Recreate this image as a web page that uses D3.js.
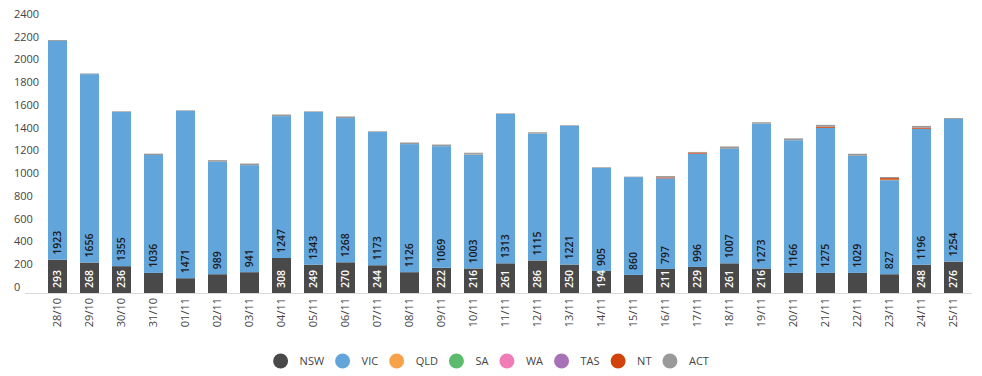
<!DOCTYPE html>
<html>
<head>
<meta charset="utf-8">
<script src="https://d3js.org/d3.v7.min.js"></script>
<style>
  body { margin: 0; background: #fff; }
  text { font-family: "Open Sans", "Noto Sans", sans-serif; }
</style>
</head>
<body>
<div id="container"></div>
<script>
let w = 982;
let h = 376;

// categories (days)
let dates = ["28/10","29/10","30/10","31/10","01/11","02/11","03/11","04/11","05/11","06/11",
  "07/11","08/11","09/11","10/11","11/11","12/11","13/11","14/11","15/11","16/11",
  "17/11","18/11","19/11","20/11","21/11","22/11","23/11","24/11","25/11"];

// series values, one per day
let nsw = [293,268,236,177,130,165,183,308,249,270,244,183,222,216,261,286,250,194,159,211,229,261,216,177,177,177,165,248,276];
let vic = [1923,1656,1355,1036,1471,989,941,1247,1343,1268,1173,1126,1069,1003,1313,1115,1221,905,860,797,996,1007,1273,1166,1275,1029,827,1196,1254];
let qld = [0,0,0,0,0,0,0,0,0,0,0,0,0,4,0,0,0,0,0,0,0,0,0,0,0,0,4,0,0];
let sa  = [0,0,0,0,0,0,0,0,0,0,0,0,0,0,0,0,0,0,0,0,0,0,0,0,0,0,0,0,0];
let wa  = [0,0,0,0,0,0,0,0,0,0,0,0,0,0,0,0,0,0,0,0,0,0,0,0,0,0,0,0,0];
let tas = [0,0,0,0,0,0,0,0,0,0,0,0,0,0,0,0,0,0,0,0,0,0,0,0,0,0,0,0,0];
let nt  = [0,0,0,0,0,0,0,0,0,0,0,0,0,0,0,0,0,0,0,8,10,0,0,0,10,0,14,10,0];
let act = [8,6,6,12,5,14,14,14,5,14,5,14,14,10,5,12,5,6,4,12,5,20,12,16,16,18,10,15,8];

// tick labels on the value axis
let yTicks = [0,200,400,600,800,1000,1200,1400,1600,1800,2000,2200,2400];

let seriesNames = ["NSW","VIC","QLD","SA","WA","TAS","NT","ACT"];
let seriesValues = [nsw, vic, qld, sa, wa, tas, nt, act];
let colors = ["#494949","#62a5da","#f7a24b","#5dbb6e","#f07db5","#a872b6","#d2430c","#999999"];

// build rows for the stack layout
let rows = dates.map(function(d, i){
  let row = {date: d};
  seriesNames.forEach(function(name, j){
    row[name] = seriesValues[j][i];
  });
  return row;
});

let viz = d3.select("#container")
  .append("svg")
    .attr("width", w)
    .attr("height", h)
;

let xScale = d3.scaleBand().domain(dates).range([41.5, 969.5]).paddingInner(0.406).paddingOuter(0.203);
let yScale = d3.scaleLinear().domain([0, 2400]).range([293, 20]);
let colorScale = d3.scaleOrdinal().domain(seriesNames).range(colors);

let stacked = d3.stack().keys(seriesNames)(rows);

// y labels, sitting a little above their value
let yGroup = viz.append("g").attr("class", "yaxis");
yGroup.selectAll("text").data(yTicks).enter()
  .append("text")
    .attr("x", 14)
    .attr("y", function(d){ return yScale(d) - 6; })
    .attr("dy", "0.35em")
    .attr("font-size", 11)
    .attr("fill", "#444")
    .text(function(d){ return d; })
;

// the bars
let vizgroup = viz.append("g").attr("class", "vizgroup");
let layers = vizgroup.selectAll(".layer").data(stacked).enter()
  .append("g")
    .attr("class", "layer")
    .attr("fill", function(d){ return colorScale(d.key); })
;
layers.selectAll("rect").data(function(d){ return d; }).enter()
  .append("rect")
    .attr("x", function(d){ return xScale(d.data.date); })
    .attr("width", xScale.bandwidth())
    .attr("y", function(d){ return yScale(d[1]); })
    .attr("height", function(d){ return yScale(d[0]) - yScale(d[1]); })
;

// baseline
viz.append("line")
  .attr("x1", 25).attr("x2", 972)
  .attr("y1", yScale(0) + 0.5).attr("y2", yScale(0) + 0.5)
  .attr("stroke", "#d9d9d9")
;

// value labels for NSW and VIC, only where the segment is tall enough
let labelGroup = viz.append("g").attr("class", "labels");
[0, 1].forEach(function(k){
  let layer = stacked[k];
  layer.forEach(function(d){
    let segH = yScale(d[0]) - yScale(d[1]);
    if(segH < 21.5){
      return;
    }
    let cx = xScale(d.data.date) + xScale.bandwidth() / 2;
    let by = yScale(d[0]) - 5;
    labelGroup.append("text")
      .attr("transform", "translate(" + cx + "," + by + ") rotate(-90)")
      .attr("dy", "0.36em")
      .attr("font-size", 10.5)
      .attr("font-weight", 600)
      .attr("fill", k == 0 ? "#ffffff" : "#1a1a1a")
      .text(d[1] - d[0])
    ;
  });
});

// category labels, rotated
let xGroup = viz.append("g").attr("class", "xaxis");
xGroup.selectAll("text").data(dates).enter()
  .append("text")
    .attr("transform", function(d){
      return "translate(" + (xScale(d) + xScale.bandwidth() / 2) + ",298) rotate(-90)";
    })
    .attr("text-anchor", "end")
    .attr("dy", "0.35em")
    .attr("font-size", 11)
    .attr("fill", "#444")
    .text(function(d){ return d; })
;

// legend, centred under the chart
let legend = viz.append("g").attr("class", "legend");
let items = legend.selectAll(".item").data(seriesNames).enter()
  .append("g").attr("class", "item");
items.append("circle")
  .attr("r", 7.5)
  .attr("fill", function(d){ return colorScale(d); });
items.append("text")
  .attr("x", 19)
  .attr("dy", "0.35em")
  .attr("font-size", 11)
  .attr("fill", "#444")
  .text(function(d){ return d; });

let cursor = 0;
let positions = [];
items.each(function(d){
  let tw = d3.select(this).select("text").node().getComputedTextLength();
  positions.push(cursor);
  cursor += 19 + tw + 18.5;
});
let total = cursor - 18.5 + 7.5;
let startX = w / 2 - total / 2 + 7.5;
items.attr("transform", function(d, i){
  return "translate(" + (startX + positions[i]) + ",361)";
});
</script>
</body>
</html>
